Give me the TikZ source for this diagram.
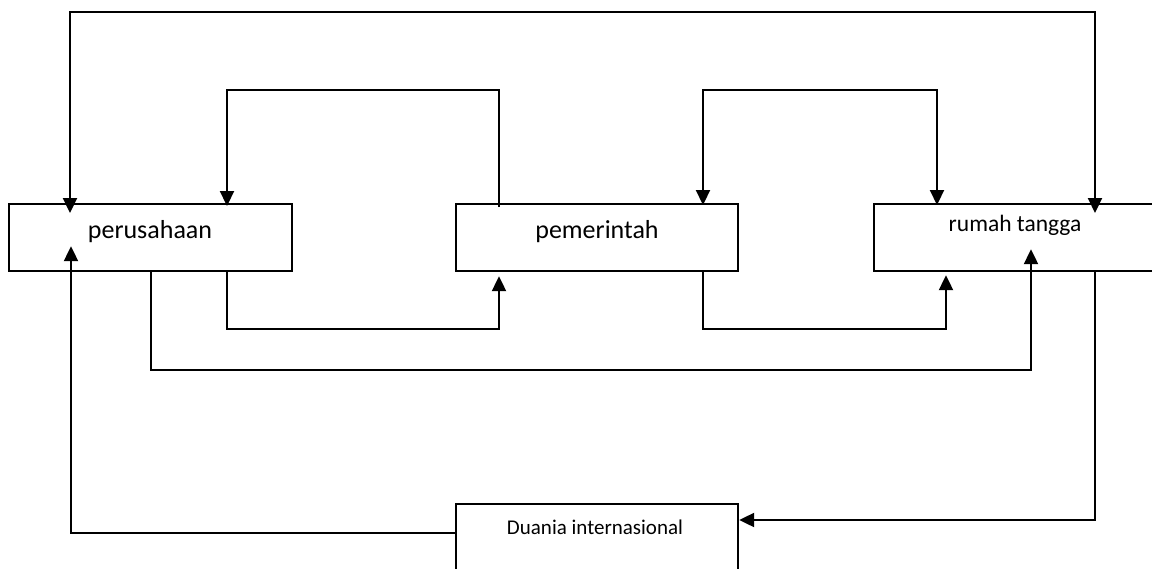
\documentclass[tikz,border=0pt]{standalone}
\usepackage{fontspec}
\setmainfont{Carlito}
\usetikzlibrary{arrows.meta,calc}
\begin{document}
\begin{tikzpicture}[x=1pt,y=-1pt,
  box/.style={draw=black,line width=2.2pt,minimum height=67pt,inner sep=0pt,anchor=north west},
  conn/.style={line width=2.2pt,line join=miter},
  tip/.style={-{Triangle[width=14pt,length=15pt]}},
  tips/.style={{Triangle[width=14pt,length=15pt]}-{Triangle[width=14pt,length=15pt]}}]
\useasboundingbox (0,0) rectangle (1152,568);
\clip (0,0) rectangle (1152,568);
\node[box,minimum width=283pt] (per) at (8,203) {};
\node[box,minimum width=282pt] (pem) at (455,203) {};
\node[box,minimum width=292pt] (rt) at (873,203) {};
\node[box,minimum width=282pt,minimum height=75pt] (dun) at (455,503) {};
\node[font=\fontsize{26}{30}\selectfont] (tper) at ($(per.north west)+(142,29)$) {perusahaan};
\node[font=\fontsize{26}{30}\selectfont] (tpem) at ($(pem.north west)+(142,29)$) {pemerintah};
\node[font=\fontsize{23.5}{28}\selectfont] (trt) at ($(rt.north west)+(142,22)$) {rumah tangga};
\node[font=\fontsize{21}{25}\selectfont] (tdun) at ($(dun.north west)+(140,24)$) {Duania internasional};
% top loop
\draw[conn,tips] ($(rt.north west)+(222,10)$) -- ++(0,-201) -| ($(per.north west)+(62,10)$);
% pem -> per
\draw[conn,tip] ($(pem.north west)+(44,4)$) -- ++(0,-117) -| ($(per.north west)+(219,3)$);
% pem <-> rt
\draw[conn,tips] ($(pem.north west)+(248,2)$) -- ++(0,-115) -| ($(rt.north west)+(64,2)$);
% per -> pem (bottom)
\draw[conn,tip] ($(per.south west)+(219,0)$) -- ++(0,57) -| ($(pem.south west)+(44,4)$);
% per -> rt (long bottom)
\draw[conn,tip] ($(per.south west)+(143,0)$) -- ++(0,98) -| ($(rt.south west)+(158,-23)$);
% pem -> rt (bottom)
\draw[conn,tip] ($(pem.south west)+(248,0)$) -- ++(0,57) -| ($(rt.south west)+(73,3)$);
% rt -> dun
\draw[conn,tip] ($(rt.south west)+(222,0)$) |- ($(dun.north east)+(0,17)$);
% dun -> per
\draw[conn,tip] ($(dun.north west)+(0,30)$) -| ($(per.south west)+(63,-26)$);
\end{tikzpicture}
\end{document}
